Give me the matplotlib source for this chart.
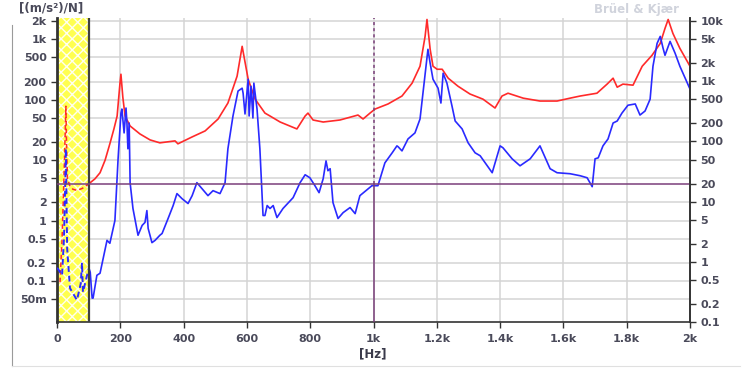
import matplotlib
matplotlib.use("Agg")
import matplotlib.pyplot as plt
from matplotlib.lines import Line2D
import matplotlib.ticker as mticker

# ---------------- data ----------------
# red curve (left-axis units), dashed part inside the excluded band (0-100 Hz)
red_dash_f = [9.5, 16, 22, 26, 28, 30, 33, 40, 50, 63, 80, 101]
red_dash_v = [0.095, 0.5, 5, 30, 78, 20, 5.0, 3.8, 3.3, 3.15, 3.4, 4.07]

red_f = [101, 120, 136, 152, 167, 180, 190, 199, 202, 208, 215, 231, 262, 294, 325, 373, 382,
         427, 468, 509, 540, 569, 585, 604, 626, 657, 673, 705, 758, 784, 793, 809, 841, 894,
         951, 967, 989, 1005, 1046, 1090, 1122, 1147, 1163, 1169, 1179, 1188, 1201, 1217, 1236,
         1267, 1305, 1346, 1384, 1406, 1425, 1473, 1526, 1580, 1621, 1653, 1706, 1738, 1757,
         1770, 1788, 1820, 1849, 1880, 1906, 1921, 1931, 1946, 1968, 2000]
red_v = [4.07, 4.9, 6.18, 10.0, 18.6, 33, 53.7, 188, 264, 110, 53.7, 36.7, 27.1, 21.6, 19.3,
         20.8, 18.6, 24.2, 30.4, 47.9, 88, 245, 764, 218, 102, 60, 53.7, 42.7, 32.8, 53.7, 60,
         46.1, 42.7, 46.1, 55.7, 47.9, 60, 70, 85, 115, 188, 358, 1116, 2128, 682, 358, 319, 319,
         227, 167, 124, 102, 72.8, 115, 128, 106, 95, 95, 106, 115, 128, 181, 227, 161, 181, 174,
         358, 543, 855, 1513, 2128, 1250, 708, 358]

# blue curve (left-axis units)
blue_dash_f = [0, 3, 6, 16, 22, 26, 28, 32, 41, 63, 75, 79, 82, 95, 101]
blue_dash_v = [0.162, 0.16, 0.15, 0.124, 0.5, 4.0, 15.4, 0.35, 0.076, 0.048, 0.09, 0.2, 0.065,
               0.124, 0.162]

blue_f = [101, 105, 111, 114, 126, 136, 158, 167, 183, 193, 202, 205, 212, 218, 221, 224,
          228, 231, 240, 256, 269, 278, 284, 288, 300, 310, 325, 332, 351, 367, 379, 395,
          414, 427, 442, 458, 477, 493, 515, 531, 540, 556, 572, 585, 588, 594, 604, 607,
          613, 619, 622, 632, 641, 651, 657, 664, 673, 683, 695, 714, 746, 768, 784, 799,
          815, 828, 841, 850, 856, 863, 872, 888, 904, 926, 942, 957, 995, 1014, 1036, 1059,
          1074, 1078, 1090, 1109, 1131, 1147, 1160, 1172, 1179, 1188, 1204, 1213, 1220, 1232,
          1248, 1258, 1280, 1299, 1321, 1337, 1375, 1400, 1409, 1438, 1463, 1495, 1526, 1558,
          1580, 1621, 1653, 1675, 1691, 1700, 1710, 1725, 1741, 1757, 1770, 1785, 1804, 1827,
          1842, 1858, 1874, 1883, 1896, 1906, 1915, 1921, 1937, 1953, 1968, 2000]
blue_v = [0.162, 0.139, 0.052, 0.052, 0.124, 0.134, 0.47, 0.42, 1.0, 10.5, 60, 70, 28.2, 72.8,
          41.1, 15.4, 41.1, 4.23, 1.58, 0.57, 0.83, 0.93, 1.46, 0.74, 0.43, 0.47, 0.57, 0.61,
          1.08, 1.77, 2.79, 2.3, 1.91, 2.58, 4.23, 3.37, 2.58, 3.12, 2.79, 4.23, 15.4, 53.7,
          139, 155, 128, 58, 218, 53.7, 167, 49.8, 188, 70, 15.4, 1.21, 1.21, 1.77, 1.58, 1.77,
          1.12, 1.58, 2.39, 4.23, 5.72, 5.1, 3.77, 2.89, 4.92, 9.7, 6.67, 7.2, 1.98, 1.08, 1.35,
          1.64, 1.3, 2.58, 3.77, 3.77, 9.0, 13.2, 17.2, 16.6, 14.2, 22.4, 28.2, 47.9, 188, 682,
          401, 218, 155, 88, 274, 188, 78.5, 44.4, 32.8, 19.3, 13.2, 11.8, 6.18, 17.2, 16, 10.5,
          8.05, 10.5, 17.2, 7.2, 6.18, 5.95, 5.51, 5.1, 3.63, 10.5, 10.9, 17.2, 22.4, 41.1, 44.4,
          60, 81, 85, 55.7, 65, 102, 358, 855, 1116, 708, 543, 923, 586, 358, 150]

x_ticks = [0, 200, 400, 600, 800, 1000, 1200, 1400, 1600, 1800, 2000]
x_tick_labels = ["0", "200", "400", "600", "800", "1k", "1.2k", "1.4k", "1.6k", "1.8k", "2k"]
left_ticks = [0.05, 0.1, 0.2, 0.5, 1, 2, 5, 10, 20, 50, 100, 200, 500, 1000, 2000]
left_tick_labels = ["50m", "0.1", "0.2", "0.5", "1", "2", "5", "10", "20", "50", "100",
                    "200", "500", "1k", "2k"]
right_ticks = [0.1, 0.2, 0.5, 1, 2, 5, 10, 20, 50, 100, 200, 500, 1000, 2000, 5000, 10000]
right_tick_labels = ["0.1", "0.2", "0.5", "1", "2", "5", "10", "20", "50", "100", "200",
                     "500", "1k", "2k", "5k", "10k"]
cursor_x = 1000
cursor_y = 4.0
band = (0, 100)

# ---------------- figure ----------------
W, H = 747, 371
fig = plt.figure(figsize=(W / 100, H / 100), dpi=100)
L, R, T, B = 57, 690, 18, 322
ax = fig.add_axes([L / W, 1 - B / H, (R - L) / W, (B - T) / H])

tick_color = "#4a4a5a"
grid_color = "#d4d4d4"
YLO, YHI = 0.0209, 2250

ax.set_xlim(0, 2000)
ax.set_yscale("log")
ax.set_ylim(YLO, YHI)

# band (yellow, cross-hatched)
plt.rcParams["hatch.linewidth"] = 1.0
ax.axvspan(band[0], band[1], facecolor="#ffff50", lw=0, zorder=1)
ax.axvspan(band[0], band[1], facecolor="none", edgecolor="#fffff0", hatch="xxx", lw=0, zorder=1.5)
ax.axvline(band[1], color="#404040", lw=1.6, zorder=4)

# grid
ax.set_xticks(x_ticks)
ax.set_xticklabels(x_tick_labels)
ax.set_yticks(left_ticks)
ax.set_yticklabels(left_tick_labels)
ax.yaxis.set_minor_locator(mticker.NullLocator())
ax.grid(True, color=grid_color, lw=1.1, zorder=0)
ax.set_axisbelow(True)

# curves
red = "#ff2a2a"
blue = "#2a2aff"
ax.plot(red_dash_f, red_dash_v, color=red, lw=1.1, ls=(0, (3, 2)), zorder=3)
ax.plot(blue_dash_f, blue_dash_v, color=blue, lw=1.4, ls=(0, (3, 2)), zorder=3)
ax.plot(red_f, red_v, color=red, lw=1.2, zorder=3)
ax.plot(blue_f, blue_v, color=blue, lw=1.2, zorder=3)

# cursors
cur_col = "#7a3f7a"
ax.axhline(cursor_y, color=cur_col, lw=1.1, zorder=5)
ax.plot([cursor_x, cursor_x], [YLO, cursor_y], color=cur_col, lw=1.1, zorder=5)
ax.plot([cursor_x, cursor_x], [cursor_y, YHI], color=cur_col, lw=1.1, ls=(0, (2, 2)), zorder=5)

# spines
ax.spines["top"].set_visible(False)
for s in ["left", "bottom", "right"]:
    ax.spines[s].set_color("#333333")
ax.spines["left"].set_linewidth(2.0)
ax.spines["bottom"].set_linewidth(1.2)
ax.spines["right"].set_linewidth(1.2)

ax.tick_params(axis="both", colors="#333333", labelcolor=tick_color, labelsize=8, length=4, width=1)
ax.tick_params(axis="x", pad=5)
for lab in ax.get_xticklabels() + ax.get_yticklabels():
    lab.set_fontweight("bold")

# right axis
ax2 = ax.twinx()
ax2.set_yscale("log")
ax2.set_ylim(YLO * 5, YHI * 5)
ax2.set_yticks(right_ticks)
ax2.set_yticklabels(right_tick_labels)
ax2.yaxis.set_minor_locator(mticker.NullLocator())
ax2.tick_params(axis="y", colors="#333333", labelcolor=tick_color, labelsize=8, length=4, width=1)
for lab in ax2.get_yticklabels():
    lab.set_fontweight("bold")
for s in ["top", "left", "bottom"]:
    ax2.spines[s].set_visible(False)
ax2.spines["right"].set_color("#333333")
ax2.spines["right"].set_linewidth(1.2)

# texts
fig.text(19 / W, 1 - 8 / H, "[(m/s²)/N]", fontsize=8.5, color="#4a4a5a", fontweight="bold",
         ha="left", va="center")
fig.text(373 / W, 1 - 354 / H, "[Hz]", fontsize=8.5, color="#3a3a4a", fontweight="bold",
         ha="center", va="center")
fig.text(637 / W, 1 - 9 / H, "Brüel & Kjær", fontsize=8.5, color="#d0d3dc", fontweight="bold",
         ha="center", va="center")

# window frame lines
fig.add_artist(Line2D([12 / W, 12 / W], [1 - 25 / H, 1 - 366 / H], color="#9a9a9a", lw=0.8))
fig.add_artist(Line2D([12 / W, 740 / W], [1 - 366 / H, 1 - 366 / H], color="#e0e0e0", lw=0.8))

fig.savefig("out.png", dpi=100)
